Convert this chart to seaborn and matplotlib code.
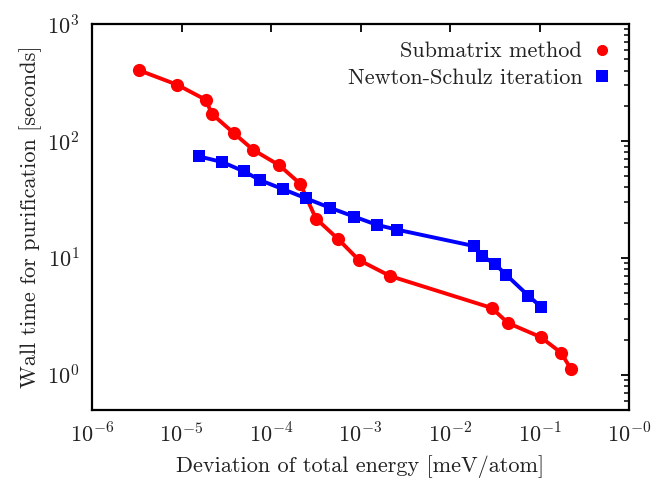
import numpy as np
import pandas as pd
import seaborn as sns
import matplotlib.pyplot as plt
from matplotlib.lines import Line2D
from matplotlib.ticker import LogLocator, NullLocator, FixedLocator, FixedFormatter

# Submatrix method
sub_dev = [3.35e-6, 8.97e-6, 1.88e-5, 2.17e-5, 3.87e-5, 6.3e-5, 1.24e-4, 2.12e-4,
           3.17e-4, 5.61e-4, 9.55e-4, 2.14e-3, 0.0292, 0.0445, 0.103, 0.173, 0.225]
sub_time = [402, 302, 224, 171, 116, 84, 61.8, 43.0, 21.7, 14.5, 9.6, 6.99,
            3.73, 2.77, 2.10, 1.55, 1.12]

# Newton-Schulz iteration
ns_dev = [1.57e-5, 2.84e-5, 4.99e-5, 7.58e-5, 1.37e-4, 2.48e-4, 4.56e-4, 8.51e-4,
          1.54e-3, 2.58e-3, 0.0187, 0.0228, 0.0321, 0.0423, 0.0750, 0.103]
ns_time = [73.7, 66.0, 54.9, 46.1, 38.6, 32.2, 26.8, 22.5, 19.1, 17.4, 12.6,
           10.4, 8.79, 7.17, 4.75, 3.83]

labels = ['Submatrix method', 'Newton-Schulz iteration']
x_ticks = [1e-6, 1e-5, 1e-4, 1e-3, 1e-2, 1e-1, 1e0]
x_ticklabels = [r'$10^{-6}$', r'$10^{-5}$', r'$10^{-4}$', r'$10^{-3}$',
                r'$10^{-2}$', r'$10^{-1}$', r'$10^{-0}$']

df = pd.concat([
    pd.DataFrame({'dev': sub_dev, 'time': sub_time, 'method': labels[0]}),
    pd.DataFrame({'dev': ns_dev, 'time': ns_time, 'method': labels[1]}),
], ignore_index=True)

sns.set_theme(style='white')
plt.rcParams['font.family'] = ['cmr10', 'DejaVu Serif']
plt.rcParams['mathtext.fontset'] = 'cm'
plt.rcParams['axes.unicode_minus'] = False
plt.rcParams['text.color'] = '#222222'
plt.rcParams['axes.labelcolor'] = '#222222'
plt.rcParams['xtick.labelcolor'] = '#222222'
plt.rcParams['ytick.labelcolor'] = '#222222'

colors = {labels[0]: '#ff0000', labels[1]: '#0000ff'}
markers = {labels[0]: 'o', labels[1]: 's'}

fig = plt.figure(figsize=(6.54, 4.78), dpi=100)
ax = fig.add_axes([0.1407, 0.1423, 0.8211, 0.8075])

for m in labels:
    d = df[df['method'] == m]
    sns.lineplot(data=d, x='dev', y='time', ax=ax, color=colors[m], marker=markers[m],
                 markersize=9.5 if m == labels[0] else 9, markeredgewidth=0,
                 linewidth=2.8, sort=False, legend=False)

ax.set_xscale('log')
ax.set_yscale('log')
ax.set_xlim(1e-6, 1e0)
ax.set_ylim(0.5, 1000)

ax.xaxis.set_major_locator(FixedLocator(x_ticks))
ax.xaxis.set_major_formatter(FixedFormatter(x_ticklabels))
ax.xaxis.set_minor_locator(NullLocator())
ax.yaxis.set_major_locator(LogLocator(base=10, numticks=10))
ax.yaxis.set_minor_locator(LogLocator(base=10, subs=np.arange(2, 10), numticks=10))

ax.tick_params(which='both', direction='in', top=True, right=True, labelsize=16, color='black')
ax.tick_params(which='major', length=6, width=1.3, pad=9)
ax.tick_params(which='minor', length=3.5, width=1.1)
for s in ax.spines.values():
    s.set_linewidth(1.6)
    s.set_color('black')

ax.set_xlabel('Deviation of total energy [meV/atom]', fontsize=16, labelpad=6)
ax.set_ylabel('Wall time for purification [seconds]', fontsize=16, labelpad=4)

handles = [Line2D([], [], color=colors[m], marker=markers[m], linestyle='none',
                  markersize=8, markeredgewidth=0) for m in labels]
ax.legend(handles, labels, loc='upper right', frameon=False, markerfirst=False,
          fontsize=16, handlelength=0.8, handletextpad=0.5, borderaxespad=0.4,
          labelspacing=0.3)

fig.savefig('out.png', dpi=100)
